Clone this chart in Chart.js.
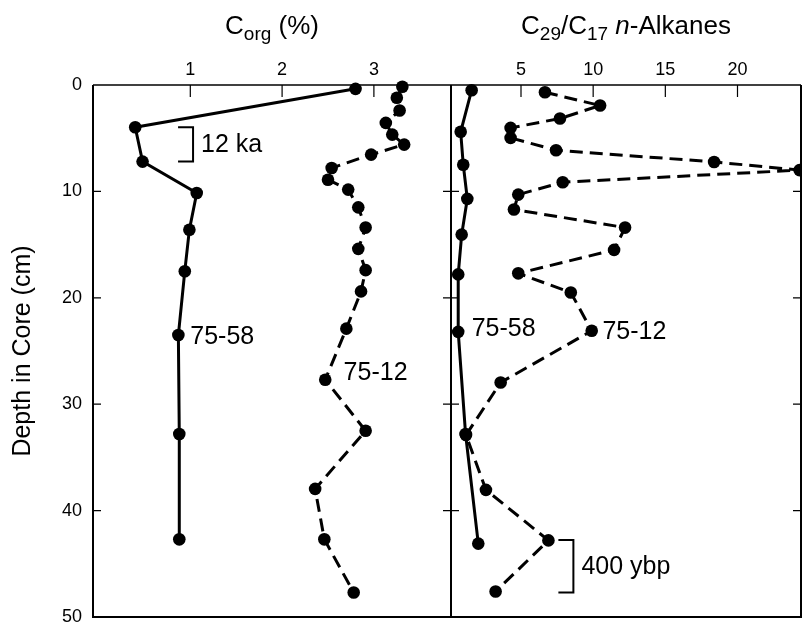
<!DOCTYPE html>
<html>
<head>
<meta charset="utf-8">
<script src="https://cdn.jsdelivr.net/npm/chart.js@4/dist/chart.umd.min.js"></script>
<style>
  html, body { margin: 0; padding: 0; background: #fff; }
  #wrap { position: relative; width: 802px; height: 626px; overflow: hidden; }
  #wrap canvas { position: absolute; left: 0; top: 0; }
  .titulo {
    position: absolute; top: 12px; color: #000; text-align: center; white-space: nowrap;
    font-family: "Liberation Sans", Arial, Helvetica, sans-serif; font-size: 26px; line-height: 26px;
  }
  .titulo sub { font-size: 19px; line-height: 0; vertical-align: baseline; position: relative; top: 6px; }
</style>
</head>
<body>
<div id="wrap">
  <canvas id="grafico-corg" width="802" height="626"></canvas>
  <canvas id="grafico-alk" width="802" height="626"></canvas>
  <div class="titulo" style="left:93px;width:358px">C<sub>org</sub> (%)</div>
  <div class="titulo" style="left:451px;width:350px">C<sub>29</sub>/C<sub>17</sub> <i>n</i>-Alkanes</div>
</div>
<script>
// Tick labels
const depthTicks = [0, 10, 20, 30, 40, 50];
const corgTicks = [1, 2, 3];
const alkTicks = [5, 10, 15, 20];

// Core 75-58 (solid line)
const corgDepth58 = [0.36, 3.97, 7.2, 10.15, 13.6, 17.5, 23.5, 32.8, 42.7];
const corg58 = [2.80, 0.40, 0.48, 1.07, 0.99, 0.94, 0.87, 0.88, 0.88];
const alkDepth58 = [0.49, 4.4, 7.5, 10.7, 14.06, 17.8, 23.2, 32.8, 43.1];
const alk58 = [1.58, 0.82, 1.0, 1.28, 0.89, 0.65, 0.65, 1.16, 2.04];

// Core 75-12 (dashed line)
const corgDepth12 = [0.17, 1.2, 2.4, 3.56, 4.66, 5.6, 6.54, 7.8, 8.9, 9.83, 11.5,
  13.4, 15.4, 17.4, 19.4, 22.9, 27.7, 32.5, 37.96, 42.7, 47.7];
const corg12 = [3.31, 3.25, 3.28, 3.13, 3.20, 3.33, 2.97, 2.54, 2.50, 2.72, 2.83,
  2.91, 2.83, 2.91, 2.86, 2.70, 2.47, 2.91, 2.36, 2.46, 2.78];
const alkDepth12 = [0.68, 1.93, 3.15, 4.03, 4.97, 6.13, 7.23, 8.0, 9.14, 10.3, 11.7,
  13.4, 15.5, 17.7, 19.5, 23.1, 27.96, 32.9, 38.05, 42.8, 47.6];
const alk12 = [6.66, 10.48, 7.7, 4.28, 4.28, 7.43, 18.38, 24.3, 7.89, 4.81, 4.51,
  12.21, 11.45, 4.81, 8.45, 9.9, 3.59, 1.19, 2.57, 6.9, 3.24];

// Core names written next to the curves: [text, value, depth]
const corgNotes = [['75-58', 1.0, 23.7], ['75-12', 2.67, 27.1]];
const alkNotes = [['75-58', 1.58, 22.9], ['75-12', 10.64, 23.2]];

// Dated intervals with a bracket: [text, value, depth from, depth to]
const corgAges = [['12 ka', 1.03, 3.97, 7.2]];
const alkAges = [['400 ybp', 8.63, 42.76, 47.7]];

const FONT = '"Liberation Sans", Arial, Helvetica, sans-serif';

function serie(values, depths, dashed) {
  return {
    data: values.map((v, i) => ({ x: v, y: depths[i] })),
    showLine: true,
    borderColor: '#000',
    backgroundColor: '#000',
    borderWidth: 3,
    borderDash: dashed ? [13, 7] : [],
    pointRadius: 6.3,
    pointHoverRadius: 6.3,
    pointBorderWidth: 0,
    clip: false,
  };
}

// no extra room for the end labels, the frame is placed by hand
function semPadding(s) {
  s.paddingTop = 0;
  s.paddingBottom = 0;
  s.paddingLeft = 0;
  s.paddingRight = 0;
}

// Box around the panel plus the inward tick marks
const moldura = {
  id: 'moldura',
  beforeDatasetsDraw(chart, args, opts) {
    const { ctx, chartArea: a, scales } = chart;
    ctx.save();
    ctx.strokeStyle = '#000';
    ctx.lineWidth = 2;
    ctx.beginPath();
    ctx.moveTo(a.left, a.top);
    ctx.lineTo(a.left, a.bottom);
    ctx.lineTo(a.right, a.bottom);
    ctx.lineTo(a.right, a.top);
    ctx.stroke();
    ctx.lineWidth = 1.5;
    ctx.beginPath();
    ctx.moveTo(a.left, a.top);
    ctx.lineTo(a.right, a.top);
    ctx.stroke();

    ctx.lineWidth = 1.2;
    ctx.beginPath();
    opts.xTicks.forEach(v => {
      const px = scales.x.getPixelForValue(v);
      ctx.moveTo(px, a.top);
      ctx.lineTo(px, a.top + 12);
    });
    depthTicks.forEach(v => {
      if (v <= scales.y.min || v >= scales.y.max) return;
      const py = scales.y.getPixelForValue(v);
      ctx.moveTo(a.left, py);
      ctx.lineTo(a.left + 8, py);
      ctx.moveTo(a.right - 8, py);
      ctx.lineTo(a.right, py);
    });
    ctx.stroke();
    ctx.restore();
  },
  afterDraw(chart, args, opts) {
    const { ctx, scales } = chart;
    ctx.save();
    ctx.fillStyle = '#000';
    ctx.strokeStyle = '#000';
    ctx.font = '25px ' + FONT;
    ctx.textAlign = 'left';
    ctx.textBaseline = 'middle';
    opts.notes.forEach(([txt, v, d]) => {
      ctx.fillText(txt, scales.x.getPixelForValue(v), scales.y.getPixelForValue(d));
    });
    opts.ages.forEach(([txt, v, d1, d2]) => {
      const px = scales.x.getPixelForValue(v);
      const y1 = scales.y.getPixelForValue(d1);
      const y2 = scales.y.getPixelForValue(d2);
      ctx.lineWidth = 2;
      ctx.beginPath();
      ctx.moveTo(px - 15, y1);
      ctx.lineTo(px, y1);
      ctx.lineTo(px, y2);
      ctx.lineTo(px - 15, y2);
      ctx.stroke();
      ctx.fillText(txt, px + 8, (y1 + y2) / 2 + 1);
    });
    ctx.restore();
  }
};

function eixoX(min, max, ticks) {
  return {
    type: 'linear',
    position: 'top',
    min: min,
    max: max,
    afterBuildTicks: s => { s.ticks = ticks.map(v => ({ value: v })); },
    afterFit: s => { s.height = 85; semPadding(s); },
    grid: { display: false, drawTicks: false },
    border: { display: false },
    ticks: { color: '#000', padding: 4, font: { family: FONT, size: 18 } },
  };
}

function opcoes(xScale, yScale, padding, xTicks, notes, ages) {
  return {
    responsive: false,
    animation: false,
    events: [],
    layout: { padding: padding, autoPadding: false },
    scales: { x: xScale, y: yScale },
    plugins: {
      legend: { display: false },
      tooltip: { enabled: false },
      moldura: { xTicks: xTicks, notes: notes, ages: ages },
    },
  };
}

// Left panel: organic carbon, carries the depth axis
new Chart(document.getElementById('grafico-corg'), {
  type: 'scatter',
  data: { datasets: [serie(corg58, corgDepth58, false), serie(corg12, corgDepth12, true)] },
  options: opcoes(
    eixoX(-0.06, 3.84, corgTicks),
    {
      type: 'linear',
      reverse: true,
      min: 0,
      max: 50,
      afterBuildTicks: s => { s.ticks = depthTicks.map(v => ({ value: v })); },
      afterFit: s => { s.width = 93; semPadding(s); },
      grid: { display: false, drawTicks: false },
      border: { display: false },
      ticks: { color: '#000', padding: 11, font: { family: FONT, size: 18 } },
      title: {
        display: true,
        text: 'Depth in Core (cm)',
        color: '#000',
        padding: { top: 8, bottom: 0 },
        font: { family: FONT, size: 25 },
      },
    },
    { left: 0, top: 0, right: 351, bottom: 9 },
    corgTicks, corgNotes, corgAges
  ),
  plugins: [moldura],
});

// Right panel: C29/C17 ratio, shares the depth scale
new Chart(document.getElementById('grafico-alk'), {
  type: 'scatter',
  data: { datasets: [serie(alk58, alkDepth58, false), serie(alk12, alkDepth12, true)] },
  options: opcoes(
    eixoX(0.15, 24.4, alkTicks),
    { type: 'linear', display: false, reverse: true, min: 0, max: 50 },
    { left: 451, top: 0, right: 1, bottom: 9 },
    alkTicks, alkNotes, alkAges
  ),
  plugins: [moldura],
});
</script>
</body>
</html>
